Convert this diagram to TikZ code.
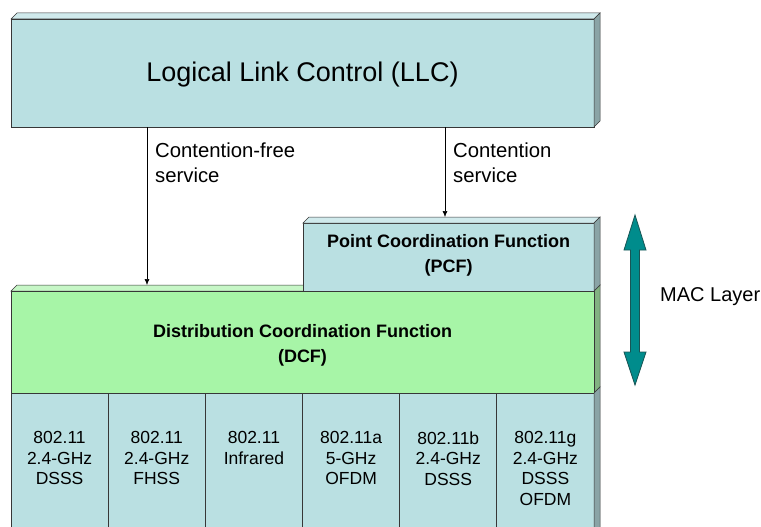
\documentclass[tikz,border=0pt]{standalone}
\usepackage{fontspec}
\setmainfont{Liberation Sans}
\usetikzlibrary{arrows.meta}

\definecolor{frontblue}{RGB}{186,224,226}
\definecolor{topblue}{RGB}{208,234,236}
\definecolor{sideblue}{RGB}{138,164,166}
\definecolor{frontgreen}{RGB}{167,245,167}
\definecolor{topgreen}{RGB}{198,246,198}
\definecolor{sidegreen}{RGB}{130,178,130}
\definecolor{edgegray}{RGB}{55,55,55}
\definecolor{macteal}{RGB}{0,140,140}
\definecolor{macedge}{RGB}{25,85,85}

% bevelled top and right faces of a slab node
\newcommand\slabtop[2]{\filldraw[fill=#2,draw=edgegray,line width=0.5pt]
  (#1.north west) -- ++(6,-6) -- ([shift={(6,-6)}]#1.north east) -- (#1.north east) -- cycle;}
\newcommand\slabside[2]{\filldraw[fill=#2,draw=edgegray,line width=0.5pt]
  (#1.north east) -- ++(6,-6) -- ([shift={(6,-6)}]#1.south east) -- (#1.south east) -- cycle;}

\begin{document}
\begin{tikzpicture}[x=1pt,y=-1pt,
  slab/.style={rectangle,draw=edgegray,line width=0.8pt,inner sep=0pt,outer sep=0pt},
  bluebox/.style={slab,fill=frontblue},
  greenbox/.style={slab,fill=frontgreen},
  phybox/.style={bluebox,minimum width=583/6*1pt,minimum height=147pt},
  phytext/.style={anchor=north,inner sep=0pt,align=center,
    font=\fontsize{17.5}{20.5}\selectfont},
  conn/.style={draw=black,line width=0.6pt,-{Latex[length=6pt,width=5pt]}},
  svclabel/.style={anchor=north west,inner sep=0pt,align=left,
    font=\fontsize{20.3}{25}\selectfont},
  headfont/.style={font=\fontsize{18}{25}\selectfont\bfseries,align=center}]

\useasboundingbox (0,0) rectangle (761,527);
\clip (0,0) rectangle (761,527);

% Logical Link Control slab
\node[bluebox,minimum width=583pt,minimum height=108pt] (llc) at (302.5,73) {};
\slabtop{llc}{topblue}
\slabside{llc}{sideblue}
\node[font=\fontsize{27}{32}\selectfont] (llctext) at (302.5,75) {Logical Link Control (LLC)};

% Distribution Coordination Function slab
\node[greenbox,minimum width=583pt,minimum height=102pt] (dcf) at (302.5,342) {};
\slabtop{dcf}{topgreen}
\slabside{dcf}{sidegreen}
\node[greenbox,minimum width=583pt,minimum height=102pt] at (dcf) {};

% Point Coordination Function slab, sitting on the DCF
\node[bluebox,minimum width=291pt,minimum height=68pt] (pcf) at (448.5,257) {};
\slabtop{pcf}{topblue}
\slabside{pcf}{sideblue}
\node[headfont] (pcftext) at (448.5,255) {Point Coordination Function\\(PCF)};
\node[headfont] (dcftext) at (302.5,345) {Distribution Coordination Function\\(DCF)};

% physical layer variants
\foreach \i/\txt in {1/{802.11\\2.4-GHz\\DSSS},2/{802.11\\2.4-GHz\\FHSS},
    3/{802.11\\Infrared},4/{802.11a\\5-GHz\\OFDM},5/{802.11b\\2.4-GHz\\DSSS},
    6/{802.11g\\2.4-GHz\\DSSS\\OFDM}}{
  \node[phybox] (phy\i) at ({11+583/6*(\i-0.5)},466.5) {};
  \node[phytext] (phytext\i) at ({11+583/6*(\i-0.5)},431.5) {\txt};
}
\slabside{phy6}{sideblue}

% service connectors from the LLC
\coordinate (cfree) at (147,0);
\coordinate (cont) at (445,0);
\draw[conn] (cfree |- llc.south) -- ([yshift=6pt]cfree |- dcf.north);
\draw[conn] (cont |- llc.south) -- ([yshift=6pt]cont |- pcf.north);
\node[svclabel] (cfreelabel) at (155,142.5) {Contention-free\\service};
\node[svclabel] (contlabel) at (453,142.5) {Contention\\service};

% MAC layer extent
\filldraw[fill=macteal,draw=macedge,line width=0.8pt]
  (635,215) -- (646,250) -- (639.5,250) -- (639.5,352) -- (646,352) -- (635,385)
  -- (624,352) -- (630.5,352) -- (630.5,250) -- (624,250) -- cycle;
\node[anchor=west,inner sep=0pt,font=\fontsize{20}{24}\selectfont] (mac) at (660,297) {MAC Layer};

\end{tikzpicture}
\end{document}
